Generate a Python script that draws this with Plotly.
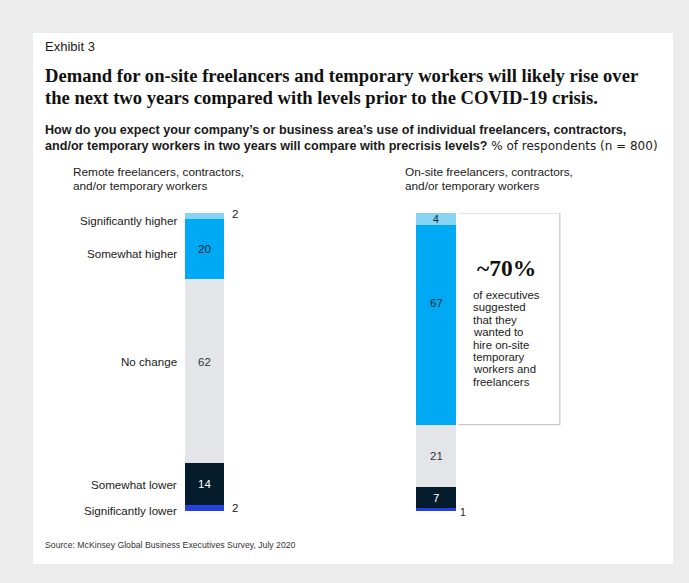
import plotly.graph_objects as go

W, H = 689, 583

categories = ["Significantly lower", "Somewhat lower", "No change", "Somewhat higher", "Significantly higher"]
remote = [2, 14, 62, 20, 2]
onsite = [1, 7, 21, 67, 4]
colors = ["#2540e0", "#051c2c", "#e4e5e9", "#00a9f4", "#86d3f3"]
bar_names = ["Remote", "On-site"]

SANS = "Liberation Sans, Arial, sans-serif"
SERIF = "Liberation Serif, Georgia, serif"
DARK = "#1a1a1a"

bar_x = [0, 1]
bw = 0.171

fig = go.Figure()
for i, cat in enumerate(categories):
    fig.add_trace(go.Bar(
        x=bar_x, y=[remote[i], onsite[i]], name=cat, width=bw,
        marker=dict(color=colors[i], line=dict(width=0)),
        showlegend=False, hoverinfo="skip"))


def px_x(p):
    return p / W


def px_y(p):
    return 1 - p / H


annotations = []


def mids(vals):
    out, c = [], 0
    for v in vals:
        out.append(c + v / 2)
        c += v
    return out


rm = mids(remote)
om = mids(onsite)

# category labels (left of remote bar)
cat_shift = [-2, 0, 9, -5, -5]
for i, cat in enumerate(categories):
    annotations.append(dict(x=bar_x[0] - bw / 2, y=rm[i], xref="x", yref="y", text=cat,
                            showarrow=False, xanchor="right", yanchor="middle", xshift=-6,
                            yshift=cat_shift[i], font=dict(family=SANS, size=11.6, color=DARK)))

# remote value labels
r_txt_col = [DARK, "white", "#333333", "#051c2c", DARK]
for i, v in enumerate(remote):
    if v <= 2:
        annotations.append(dict(x=bar_x[0] + bw / 2, y=rm[i], xref="x", yref="y", text=str(v),
                                showarrow=False, xanchor="left", yanchor="middle", xshift=6,
                                yshift=(2 if i == 4 else 0),
                                font=dict(family=SANS, size=11.5, color=DARK)))
    else:
        annotations.append(dict(x=bar_x[0], y=rm[i], xref="x", yref="y", text=str(v),
                                showarrow=False, xanchor="center", yanchor="middle",
                                yshift=(9 if i == 2 else 0),
                                font=dict(family=SANS, size=11.5, color=r_txt_col[i])))

# on-site value labels
o_txt_col = [DARK, "white", "#333333", "#051c2c", "#051c2c"]
for i, v in enumerate(onsite):
    if i == 0:
        annotations.append(dict(x=bar_x[1] + bw / 2, y=om[i], xref="x", yref="y", text=str(v),
                                showarrow=False, xanchor="left", yanchor="middle", xshift=2,
                                yshift=-2, font=dict(family=SANS, size=10.5, color=DARK)))
    else:
        annotations.append(dict(x=bar_x[1], y=om[i], xref="x", yref="y", text=str(v),
                                showarrow=False, xanchor="center", yanchor="middle",
                                yshift=(22 if i == 3 else 0),
                                font=dict(family=SANS, size=(10.5 if i == 4 else 11.5), color=o_txt_col[i])))


def ptext(x, y, text, size, family=SANS, color=DARK, anchor="left"):
    return dict(x=px_x(x), y=px_y(y), xref="paper", yref="paper", text=text, showarrow=False,
                xanchor=anchor, yanchor="middle", xshift=(-2 if anchor == "left" else 0),
                font=dict(family=family, size=size, color=color))


annotations += [
    ptext(45, 47, "Exhibit 3", 13),
    ptext(45, 75, "<b>Demand for on-site freelancers and temporary workers will likely rise over</b>",
          18.6, SERIF, "#111111"),
    ptext(45, 97, "<b>the next two years compared with levels prior to the COVID-19 crisis.</b>",
          18.6, SERIF, "#111111"),
    ptext(45, 130, "<b>How do you expect your company’s or business area’s use of individual freelancers, contractors,</b>",
          12.6),
    ptext(45, 146, "<b>and/or temporary workers in two years will compare with precrisis levels?</b>"
          "<span style='font-family:DejaVu Sans;font-size:12px'> % of respondents (n = 800)</span>",
          12.6),
    ptext(73, 172, "Remote freelancers, contractors,", 11.8),
    ptext(73, 186, "and/or temporary workers", 11.8),
    ptext(405, 172, "On-site freelancers, contractors,", 11.8),
    ptext(405, 186, "and/or temporary workers", 11.8),
    ptext(45, 545, "Source: McKinsey Global Business Executives Survey, July 2020", 8.7, SANS, "#333333"),
    ptext(507, 268, "<b>~70%</b>", 23.5, SERIF, "#111111", anchor="center"),
]
callout_lines = ["of executives", "suggested", "that they", "wanted to", "hire on-site",
                 "temporary", "workers and", "freelancers"]
for k, line in enumerate(callout_lines):
    annotations.append(ptext(473, 295 + k * 12.4, line, 11.4))

# call-out box (open on the left, against the bar), bottom aligned with top two on-site segments
box_left = bar_x[1] + bw / 2 + 0.013
box_right = 1.535
box_top = sum(onsite)
box_bottom = sum(onsite) - onsite[4] - onsite[3]
shapes = [
    dict(type="rect", xref="paper", yref="paper", x0=px_x(33), x1=px_x(673), y0=px_y(564), y1=px_y(33),
         fillcolor="white", line=dict(width=0), layer="below"),
    dict(type="path", xref="x", yref="y",
         path=f"M {box_left},{box_top} L {box_right},{box_top} L {box_right},{box_bottom} L {box_left},{box_bottom}",
         line=dict(color="#c8c8c8", width=1.2)),
]

x_c0 = 204.5
unit = 231.5
fig.update_layout(
    width=W, height=H, margin=dict(l=0, r=0, t=0, b=0),
    paper_bgcolor="#ececec", plot_bgcolor="rgba(0,0,0,0)",
    barmode="stack", bargap=0,
    xaxis=dict(range=[-x_c0 / unit, (W - x_c0) / unit], domain=[0, 1], visible=False, fixedrange=True),
    yaxis=dict(range=[0, 100], domain=[(H - 511) / H, (H - 213) / H], visible=False, fixedrange=True),
    annotations=annotations, shapes=shapes, showlegend=False,
)

fig.write_html("out.html")
